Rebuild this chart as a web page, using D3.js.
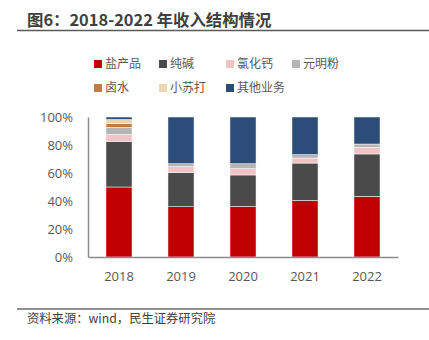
<!DOCTYPE html>
<html>
<head>
<meta charset="utf-8">
<script src="https://cdn.jsdelivr.net/npm/d3@7"></script>
<style>
  html, body { margin: 0; padding: 0; background: #fff; }
  svg { display: block; font-family: "Noto Sans CJK SC", "Open Sans", sans-serif; }
</style>
</head>
<body>
<svg id="chart" width="429" height="340"></svg>
<script>
// Revenue mix by year, percent of total
const years = ["2018", "2019", "2020", "2021", "2022"];
const seriesNames = ["盐产品", "纯碱", "氯化钙", "元明粉", "卤水", "小苏打", "其他业务"];
const saltProducts = [50.0, 35.9, 36.1, 40.4, 43.3];
const sodaAsh      = [32.6, 24.5, 22.5, 26.7, 30.3];
const calciumChlor = [4.8, 4.1, 4.5, 3.6, 4.7];
const sodiumSulf   = [5.2, 2.1, 3.5, 2.4, 2.4];
const brine        = [2.6, 0, 0, 0, 0];
const bakingSoda   = [3.0, 0, 0, 0, 0];
const otherBiz     = [1.8, 33.4, 33.4, 26.9, 19.3];
const yTicks = [0, 20, 40, 60, 80, 100];

const seriesValues = [saltProducts, sodaAsh, calciumChlor, sodiumSulf, brine, bakingSoda, otherBiz];
const colors = ["#C00000", "#4A4A4A", "#F0C4C6", "#B5B5B5", "#C07A45", "#EAD6B4", "#2C4D79"];

const svg = d3.select("#chart");

// Title and rule lines
svg.append("text")
  .attr("x", 27).attr("y", 26)
  .attr("font-size", 16.4).attr("font-weight", "bold")
  .attr("fill", "#404040")
  .text("图6：2018-2022 年收入结构情况");
svg.append("line")
  .attr("x1", 17).attr("x2", 429).attr("y1", 30.5).attr("y2", 30.5)
  .attr("stroke", "#5a5a5a").attr("stroke-width", 1.5);
svg.append("line")
  .attr("x1", 17).attr("x2", 429).attr("y1", 309).attr("y2", 309)
  .attr("stroke", "#6a6a6a").attr("stroke-width", 1.5);
svg.append("text")
  .attr("x", 27).attr("y", 323)
  .attr("font-size", 12.3).attr("fill", "#404040")
  .text("资料来源：wind，民生证券研究院");

// Legend: two rows
const legendPos = [
  [94, 64], [159, 64], [226, 64], [292, 64],
  [94, 88], [159, 88], [226, 88]
];
const legend = svg.append("g");
seriesNames.forEach((name, i) => {
  const [lx, ly] = legendPos[i];
  legend.append("rect")
    .attr("x", lx).attr("y", ly - 4).attr("width", 8).attr("height", 8)
    .attr("fill", colors[i]);
  legend.append("text")
    .attr("x", lx + 11).attr("y", ly).attr("dy", "0.35em")
    .attr("font-size", 12).attr("fill", "#595959")
    .text(name);
});

// Scales
const x = d3.scaleBand().domain(years).range([88, 398]).paddingInner(0.58).paddingOuter(0.29);
const y = d3.scaleLinear().domain([0, 100]).range([257, 117]);

// Stack
const rows = years.map((yr, i) => {
  const r = { year: yr };
  seriesNames.forEach((s, k) => { r[s] = seriesValues[k][i]; });
  return r;
});
const stacked = d3.stack().keys(seriesNames)(rows);

svg.append("g").selectAll("g")
  .data(stacked)
  .join("g")
  .attr("fill", (d, i) => colors[i])
  .selectAll("rect")
  .data(d => d.filter(p => p[1] - p[0] > 0))
  .join("rect")
  .attr("x", d => x(d.data.year))
  .attr("width", x.bandwidth())
  .attr("y", d => y(d[1]))
  .attr("height", d => y(d[0]) - y(d[1]))
  .attr("stroke", "#ffffff")
  .attr("stroke-width", 0.5);

// Axes
const yAxis = svg.append("g")
  .attr("transform", "translate(88,0)")
  .call(d3.axisLeft(y).tickValues(yTicks).tickFormat(d => d + "%").tickSize(0).tickPadding(15));
yAxis.select(".domain").attr("stroke", "#8c8c8c").attr("stroke-width", 1.5);
yAxis.selectAll("text").attr("font-size", 13).attr("fill", "#595959")
  .attr("font-family", "'Open Sans', 'Noto Sans', sans-serif");

const xAxis = svg.append("g")
  .attr("transform", "translate(0,257)")
  .call(d3.axisBottom(x).tickSize(0).tickPadding(15));
xAxis.select(".domain").attr("stroke", "#8c8c8c").attr("stroke-width", 1.5);
xAxis.selectAll("text").attr("font-size", 13).attr("fill", "#595959")
  .attr("font-family", "'Open Sans', 'Noto Sans', sans-serif");
</script>
</body>
</html>
